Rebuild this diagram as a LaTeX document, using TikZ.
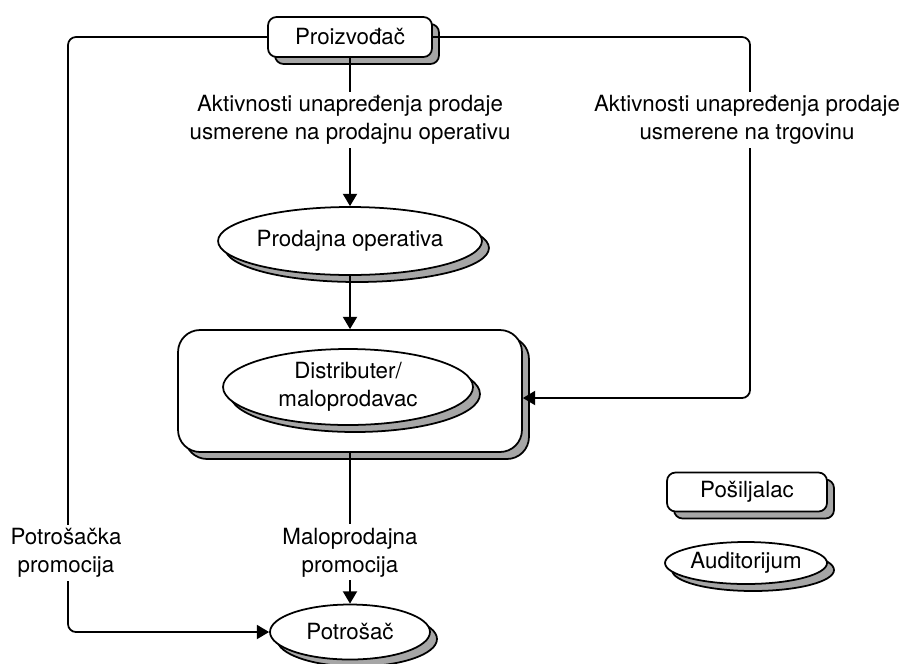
\documentclass[tikz,border=0pt]{standalone}
\usepackage{fontspec}
\setmainfont{TeX Gyre Heros}
\usetikzlibrary{arrows.meta,shapes.geometric,shadows}

\begin{document}
\begin{tikzpicture}[
        x=0.02cm, y=-0.02cm,
        >={Triangle[length=7pt,width=8pt]},
        font=\fontsize{12.7}{15.9}\selectfont,
        line width=1pt,
        shade/.style={drop shadow={shadow xshift=0.14cm, shadow yshift=-0.14cm, fill=black!35, draw=black, opacity=1}},
        sender/.style={draw, fill=white, rounded corners=0.17cm, shade, minimum width=3.28cm, minimum height=0.8cm},
        audience/.style={ellipse, draw, fill=white, shade, align=center, inner sep=0pt},
        label/.style={fill=white, align=center, inner sep=2pt},
        flow/.style={->, rounded corners=0.16cm}
    ]
        \useasboundingbox (0,0) rectangle (908,663);
        % posiljaoci i auditorijumi
        \node[sender] (proizvodjac) at (350,37) {Proizvođač};
        \node[audience, minimum width=5.04cm, minimum height=1.36cm] (operativa) at (350,241) {Prodajna operativa};
        \node[sender, minimum width=6.88cm, minimum height=2.44cm, rounded corners=0.44cm] (trgovina) at (350,391) {};
        \node[audience, minimum width=5.0cm, minimum height=1.52cm] (distributer) at (348,387) {Distributer/\\maloprodavac};
        \node[audience, minimum width=3.2cm, minimum height=1.1cm] (potrosac) at (350,632) {Potrošač};
        % legenda
        \node[sender, minimum width=3.2cm, minimum height=0.78cm] (posiljalac) at (747,492) {Pošiljalac};
        \node[audience, minimum width=3.24cm, minimum height=0.84cm] (auditorijum) at (746,563) {Auditorijum};
        % tokovi promocije
        \coordinate (levo) at (68,632);
        \coordinate (desno) at (750,398);
        \draw[flow] (proizvodjac.west) -| (levo) -- (potrosac.west);
        \draw[flow] (proizvodjac.east) -| (desno) -- (desno -| trgovina.east);
        \draw[->] (proizvodjac.south) -- node[label, pos=0.42] {Aktivnosti unapređenja prodaje\\usmerene na prodajnu operativu} (operativa.north);
        \draw[->] (operativa.south) -- (trgovina.north);
        \draw[->] (trgovina.south) -- node[label, pos=0.66] {Maloprodajna\\promocija} (potrosac.north);
        \node[label] (trgovinalbl) at (747,120) {Aktivnosti unapređenja prodaje\\usmerene na trgovinu};
        \node[label] (potrosaclbl) at (66,553) {Potrošačka\\promocija};
    \end{tikzpicture}
\end{document}
